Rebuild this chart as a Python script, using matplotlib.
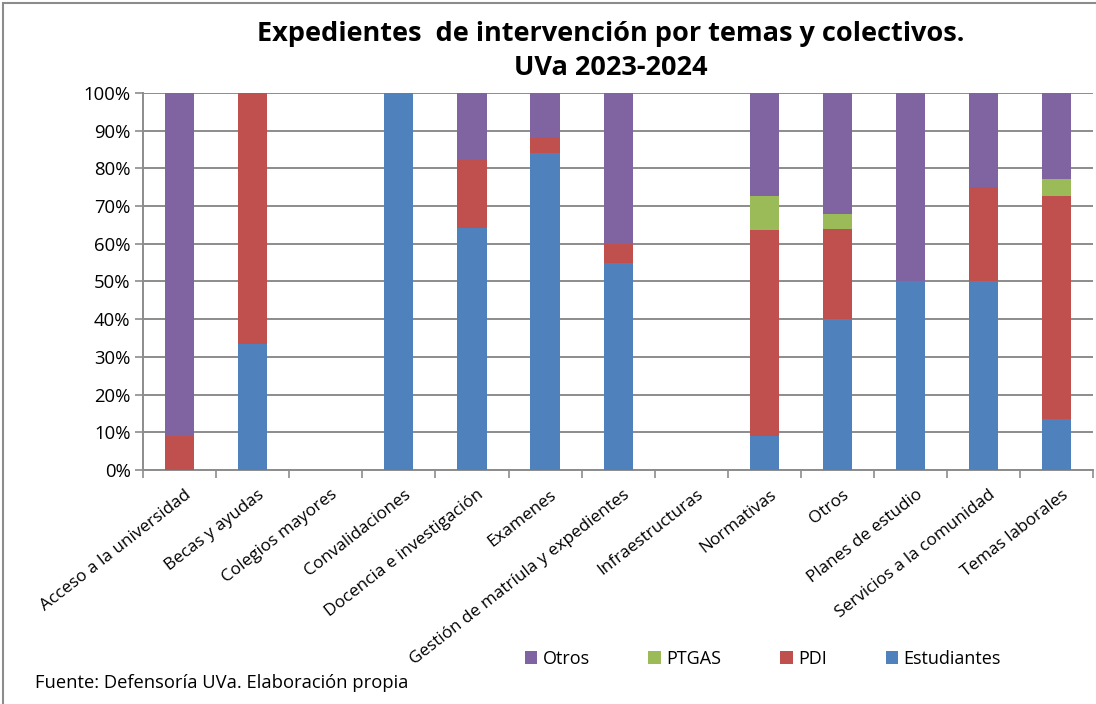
import matplotlib
matplotlib.use("Agg")
import matplotlib.pyplot as plt
import matplotlib.transforms as mtransforms
import numpy as np
from matplotlib.ticker import PercentFormatter

plt.rcParams['font.family'] = ['Open Sans', 'DejaVu Sans']

temas = ["Acceso a la universidad", "Becas y ayudas", "Colegios mayores",
         "Convalidaciones", "Docencia e investigación", "Examenes",
         "Gestión de matríula y expedientes", "Infraestructuras", "Normativas",
         "Otros", "Planes de estudio", "Servicios a la comunidad", "Temas laborales"]

# shares per category (%)
estudiantes = [0, 33.3, 0, 100, 64.3, 84, 55, 0, 9.1, 40, 50, 50, 13.6]
pdi = [9.1, 66.7, 0, 0, 17.85, 4, 5, 0, 54.5, 24, 0, 25, 59.1]
ptgas = [0, 0, 0, 0, 0, 0, 0, 0, 9.1, 4, 0, 0, 4.5]
otros = [90.9, 0, 0, 0, 17.85, 12, 40, 0, 27.3, 32, 50, 25, 22.8]

colores = {"Estudiantes": "#4F81BD", "PDI": "#C0504D", "PTGAS": "#9BBB59", "Otros": "#8064A2"}

fig = plt.figure(figsize=(10.96, 7.04), dpi=100)
ax = fig.add_axes([0.1305, 0.3324, 0.867, 0.5355])

x = np.arange(len(temas))
w = 0.4
bottom = np.zeros(len(temas))
handles = {}
for nombre, vals in [("Estudiantes", estudiantes), ("PDI", pdi), ("PTGAS", ptgas), ("Otros", otros)]:
    vals = np.array(vals)
    handles[nombre] = ax.bar(x, vals, w, bottom=bottom, color=colores[nombre], zorder=3)
    bottom += vals

ax.set_xlim(-0.5, len(temas) - 0.5)
ax.set_ylim(0, 100)
ax.set_yticks(np.arange(0, 101, 10))
ax.yaxis.set_major_formatter(PercentFormatter(decimals=0))
ax.grid(axis='y', color='#8c8c8c', linewidth=1.4, zorder=0)

ax.set_xticks(x)
ax.set_xticklabels(temas, rotation=38, ha='right', rotation_mode='anchor', fontsize=12.3)
ax.set_xticks(np.arange(-0.5, len(temas), 1), minor=True)
ax.tick_params(axis='x', which='major', length=0, pad=12)
ax.tick_params(axis='x', which='minor', length=6, color='#8c8c8c', width=1.2)
ax.tick_params(axis='y', length=6, color='#8c8c8c', width=1.2, labelsize=13.3, pad=3)
shift = mtransforms.ScaledTranslation(5 / 100, 0, fig.dpi_scale_trans)
for lbl in ax.get_xticklabels():
    lbl.set_transform(lbl.get_transform() + shift)

for s in ['top', 'right']:
    ax.spines[s].set_visible(False)
for s in ['left', 'bottom']:
    ax.spines[s].set_color('#8c8c8c')
    ax.spines[s].set_linewidth(1.4)

fig.text(0.557, 0.952, "Expedientes  de intervención por temas y colectivos.",
         ha='center', va='center', fontsize=19.5, fontweight='bold')
fig.text(0.557, 0.903, "UVa 2023-2024", ha='center', va='center', fontsize=19.5, fontweight='bold')

orden = ["Otros", "PTGAS", "PDI", "Estudiantes"]
fig.legend([handles[n] for n in orden], orden, loc='center', bbox_to_anchor=(0.696, 0.064),
           ncol=4, frameon=False, fontsize=13, handlelength=0.7, handleheight=0.7,
           handletextpad=0.3, columnspacing=3.25)

fig.text(0.032, 0.030, "Fuente: Defensoría UVa. Elaboración propia", ha='left', va='center', fontsize=13.2)

fig.patches.append(plt.Rectangle((0.003, -0.01), 1.1, 1.006, transform=fig.transFigure,
                                 fill=False, edgecolor='#8c8c8c', linewidth=1.5))

fig.savefig("out.png", dpi=100)
